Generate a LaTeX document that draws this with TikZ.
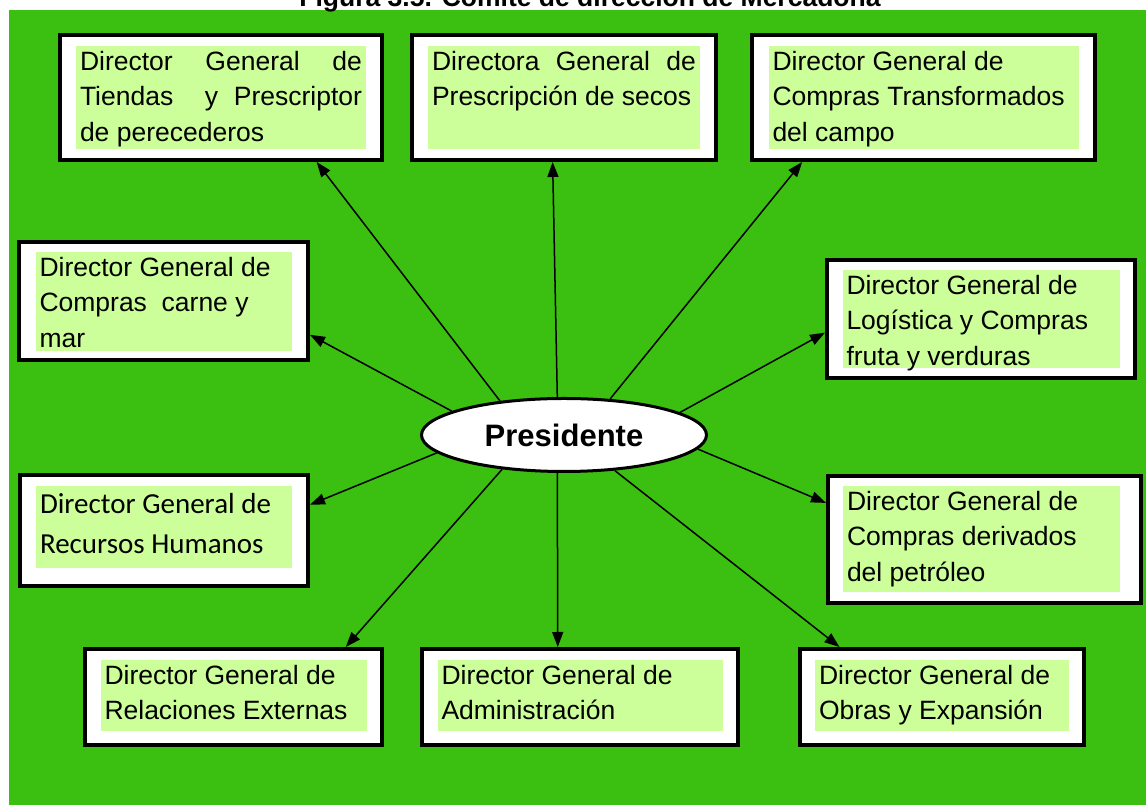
\documentclass[tikz,border=0pt]{standalone}
\usepackage{fontspec}
\setmainfont{Liberation Sans}
\newfontfamily\calibri{Carlito}
\usetikzlibrary{shapes.geometric,arrows.meta}
\definecolor{fondo}{RGB}{59,191,16}
\definecolor{verdeclaro}{RGB}{204,255,153}
\newcommand{\texto}[3]{\parbox[t][#2][t]{#1}{#3}}
\tikzset{
	marco/.style={draw, line width=4pt, fill=white, inner sep=0pt},
	cargo/.style={fill=verdeclaro, inner xsep=4pt, inner ysep=5pt, outer sep=0pt, anchor=north, font=\fontsize{26.5}{35.5}\selectfont},
	flecha/.style={-{Triangle[length=15pt,width=11pt]}, line width=1.5pt},
}
\begin{document}
\begin{tikzpicture}[x=1pt,y=1pt]
		\useasboundingbox (0,0) rectangle (1146,805);
		\fill[fondo] (9,0) rectangle (1146,795);
		\node at (590,798) [anchor=base, font=\bfseries\fontsize{26.5}{30}\selectfont] (titulo) {Figura 3.5. Comité de dirección de Mercadona};

		\node at (564,370) [ellipse, draw, line width=3pt, fill=white, minimum width=285, minimum height=73, inner sep=0pt, font=\bfseries\fontsize{31}{34}\selectfont] (pres) {Presidente};

		\node at (221,707.5) [marco, minimum width=322, minimum height=125] (tiendas) {};
		\node at ([yshift=-13pt]tiendas.north) [cargo] (tiendas-t) {\texto{282pt}{93pt}{Director General de\linebreak Tiendas\ \ y Prescriptor\linebreak de perecederos}};
		\node at (564,707.5) [marco, minimum width=304, minimum height=125] (secos) {};
		\node at ([yshift=-13pt]secos.north) [cargo] (secos-t) {\texto{264pt}{93pt}{Directora General de\linebreak Prescripción de secos}};
		\node at (923.5,707.5) [marco, minimum width=343, minimum height=125] (campo) {};
		\node at ([yshift=-13pt]campo.north) [cargo] (campo-t) {\texto{302pt}{93pt}{Director General de\\ Compras Transformados\\ del campo}};

		\node at (163.5,504) [marco, minimum width=289, minimum height=118] (carne) {};
		\node at ([yshift=-12pt]carne.north) [cargo] (carne-t) {\texto{248pt}{89pt}{Director General de\\ Compras\ \ carne y\\ mar}};
		\node at (981,486) [marco, minimum width=308, minimum height=118] (logistica) {};
		\node at ([yshift=-12pt]logistica.north) [cargo] (logistica-t) {\texto{269pt}{88pt}{Director General de\\ Logística y Compras\\ fruta y verduras}};

		\node at (164,274.5) [marco, minimum width=288, minimum height=111] (rrhh) {};
		\node at ([yshift=-13pt]rrhh.north) [cargo, inner ysep=7pt, font=\calibri\fontsize{29}{40}\selectfont] (rrhh-t) {\texto{248pt}{68pt}{Director General de\\ Recursos Humanos}};
		\node at (984.5,265.5) [marco, minimum width=313, minimum height=127] (petroleo) {};
		\node at ([xshift=-3pt,yshift=-12pt]petroleo.north) [cargo] (petroleo-t) {\texto{269pt}{96pt}{Director General de\\ Compras derivados\\ del petróleo}};

		\node at (233.5,108) [marco, minimum width=297, minimum height=96] (externas) {};
		\node at ([yshift=-13pt]externas.north) [cargo] (externas-t) {\texto{258pt}{61pt}{Director General de\\ Relaciones Externas}};
		\node at (580,108) [marco, minimum width=316, minimum height=96] (admin) {};
		\node at ([yshift=-13pt]admin.north) [cargo] (admin-t) {\texto{277pt}{61pt}{Director General de\\ Administración}};
		\node at (942,108) [marco, minimum width=284, minimum height=96] (obras) {};
		\node at ([yshift=-13pt]obras.north) [cargo] (obras-t) {\texto{246pt}{61pt}{Director General de\\ Obras y Expansión}};

		\draw[flecha] (pres.152.5) -- (tiendas.-34);
		\draw[flecha] (pres.100) -- (secos.260.5);
		\draw[flecha] (pres.38.4) -- (campo.208.8);
		\draw[flecha] (pres.168.3) -- (carne.347.2);
		\draw[flecha] (pres.11.6) -- (logistica.185.4);
		\draw[flecha] (pres.188.9) -- (rrhh.10.5);
		\draw[flecha] (pres.354.4) -- (petroleo.167);
		\draw[flecha] (pres.209.4) -- (externas.24.2);
		\draw[flecha] (pres.260) -- (admin.114.3);
		\draw[flecha] (pres.325.4) -- (obras.154.5);
	\end{tikzpicture}
\end{document}
